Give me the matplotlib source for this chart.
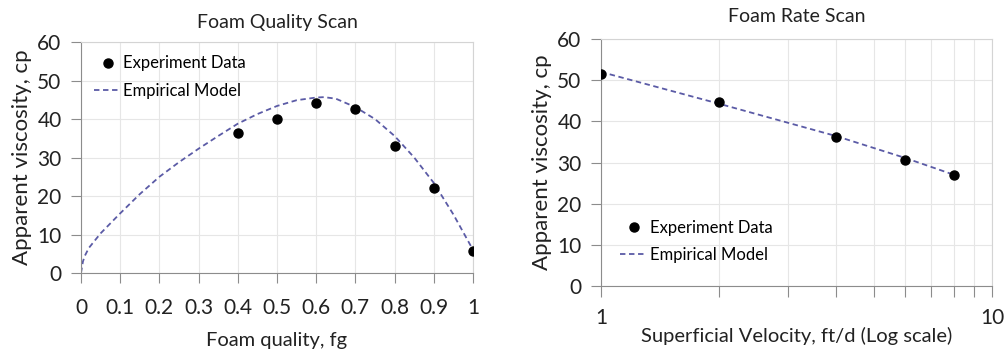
import matplotlib
matplotlib.use("Agg")
import matplotlib.pyplot as plt
from matplotlib.ticker import FixedLocator, FuncFormatter, NullFormatter

plt.rcParams['font.family'] = ['Lato', 'DejaVu Sans']

# Foam quality scan
fq_data_x = [0.4, 0.5, 0.6, 0.7, 0.8, 0.9, 1.0]
fq_data_y = [36.5, 40.1, 44.3, 42.6, 33.1, 22.2, 5.7]
fq_model_x = [0.0, 0.005, 0.01, 0.02, 0.05, 0.1, 0.15, 0.2, 0.25, 0.3, 0.35, 0.4, 0.45,
              0.5, 0.55, 0.6, 0.62, 0.65, 0.7, 0.75, 0.8, 0.85, 0.9, 0.95, 1.0]
fq_model_y = [0.0, 3.0, 4.5, 6.5, 10.3, 15.5, 20.5, 25.0, 28.8, 32.3, 35.6, 38.8, 41.3,
              43.4, 44.9, 45.6, 45.7, 45.3, 43.1, 40.0, 35.6, 30.0, 23.4, 15.2, 6.0]

# Foam rate scan
fr_data_x = [1, 2, 4, 6, 8]
fr_data_y = [51.5, 44.7, 36.1, 30.7, 26.9]
fr_model_x = [1, 2, 4, 6, 8]
fr_model_y = [52.0, 44.3, 36.4, 31.1, 27.0]

xticks_left = [0, 0.1, 0.2, 0.3, 0.4, 0.5, 0.6, 0.7, 0.8, 0.9, 1]
yticks = [0, 10, 20, 30, 40, 50, 60]

line_color = '#5b5ba6'
grid_color = '#e6e6e6'
dark_spine = '#8c8c8c'
light_spine = '#d4d4d4'
text_color = '#222222'

fig = plt.figure(figsize=(10.06, 3.52), dpi=100)

def style(ax):
    ax.set_ylim(0, 60)
    ax.set_yticks(yticks)
    ax.grid(True, which='both', color=grid_color, linewidth=0.8)
    ax.set_axisbelow(True)
    ax.spines['left'].set_color(dark_spine)
    ax.spines['bottom'].set_color(dark_spine)
    ax.spines['top'].set_color(light_spine)
    ax.spines['right'].set_color(light_spine)
    ax.tick_params(axis='both', which='both', color=dark_spine, length=7, width=0.8,
                   labelsize=15, labelcolor=text_color)
    ax.tick_params(axis='y', pad=7)
    ax.set_ylabel('Apparent viscosity, cp', fontsize=16, color=text_color)

# Left panel
ax1 = fig.add_axes([0.0805, 0.2244, 0.3897, 0.656])
style(ax1)
ax1.plot(fq_data_x, fq_data_y, 'o', color='black', markersize=6.5, label='Experiment Data', zorder=3)
ax1.plot(fq_model_x, fq_model_y, '--', color=line_color, linewidth=1.3, dashes=(3, 2),
         label='Empirical Model', zorder=2)
ax1.set_xlim(0, 1)
ax1.set_xticks(xticks_left)
ax1.xaxis.set_major_formatter(FuncFormatter(lambda v, p: '%g' % v))
ax1.tick_params(axis='x', pad=11)
ax1.set_xlabel('Foam quality, fg', fontsize=14.5, color=text_color, labelpad=10)
ax1.set_title('Foam Quality Scan', fontsize=14, color=text_color, pad=10)
ax1.legend(loc='upper left', bbox_to_anchor=(0.0, 1.0), frameon=False, fontsize=12,
           handlelength=1.6, handletextpad=0.15, labelspacing=0.7, borderaxespad=0.4)

# Right panel
ax2 = fig.add_axes([0.5974, 0.1875, 0.3887, 0.7017])
style(ax2)
ax2.plot(fr_data_x, fr_data_y, 'o', color='black', markersize=6.5, label='Experiment Data', zorder=3)
ax2.plot(fr_model_x, fr_model_y, '--', color=line_color, linewidth=1.3, dashes=(3, 2),
         label='Empirical Model', zorder=2)
ax2.set_xscale('log')
ax2.set_xlim(1, 10)
ax2.xaxis.set_major_locator(FixedLocator([1, 10]))
ax2.xaxis.set_minor_locator(FixedLocator([2, 3, 4, 5, 6, 7, 8, 9]))
ax2.xaxis.set_major_formatter(FuncFormatter(lambda v, p: '%g' % v))
ax2.xaxis.set_minor_formatter(NullFormatter())
ax2.tick_params(axis='x', which='both', length=8, pad=8)
ax2.set_xlabel('Superficial Velocity, ft/d (Log scale)', fontsize=14.5, color=text_color, labelpad=-1)
ax2.set_title('Foam Rate Scan', fontsize=14, color=text_color, pad=12)
ax2.legend(loc='lower left', bbox_to_anchor=(0.02, 0.045), frameon=False, fontsize=12,
           handlelength=1.6, handletextpad=0.15, labelspacing=0.7, borderaxespad=0.3)

fig.savefig('out.png', dpi=100)
